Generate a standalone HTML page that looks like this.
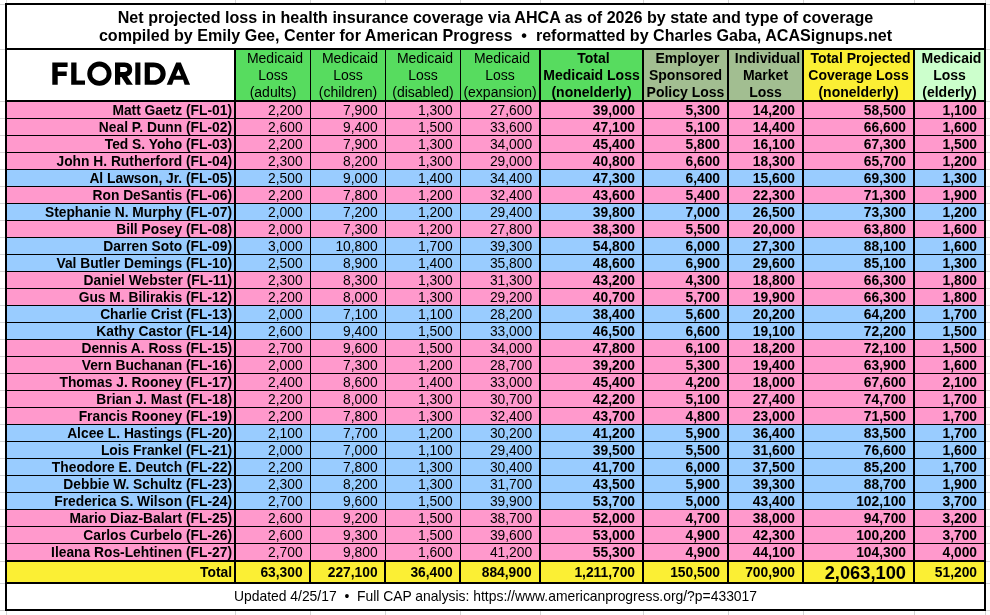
<!DOCTYPE html>
<html><head><meta charset="utf-8"><title>Florida AHCA coverage loss</title>
<style>
html,body{margin:0;padding:0;background:#fff;}
body{width:990px;height:615px;position:relative;overflow:hidden;font-family:"Liberation Sans",sans-serif;color:#000;}
.a{position:absolute;}
.k{position:absolute;background:#000;}
.g{position:absolute;background:#d4d4d4;}
.c{position:absolute;white-space:nowrap;overflow:visible;font-size:13.8px;line-height:18px;height:16px;text-align:right;box-sizing:border-box;}
.b{font-weight:bold;}
.c.b{font-size:13.8px;}
.h{position:absolute;text-align:center;font-size:14px;line-height:16.8px;white-space:nowrap;box-sizing:border-box;}
.pk{background:#FF99CC;}.bl{background:#99CCFF;}

</style></head><body><div id="root" style="position:absolute;left:0;top:0;width:990px;height:615px;will-change:transform;transform:translateZ(0);">
<div class="g" style="left:6px;top:0;width:1px;height:615px"></div>
<div class="g" style="left:235px;top:0;width:1px;height:615px"></div>
<div class="g" style="left:310px;top:0;width:1px;height:615px"></div>
<div class="g" style="left:385px;top:0;width:1px;height:615px"></div>
<div class="g" style="left:460px;top:0;width:1px;height:615px"></div>
<div class="g" style="left:540px;top:0;width:1px;height:615px"></div>
<div class="g" style="left:643px;top:0;width:1px;height:615px"></div>
<div class="g" style="left:728px;top:0;width:1px;height:615px"></div>
<div class="g" style="left:803px;top:0;width:1px;height:615px"></div>
<div class="g" style="left:914px;top:0;width:1px;height:615px"></div>
<div class="g" style="left:985px;top:0;width:1px;height:615px"></div>
<div class="g" style="left:0;top:4px;width:990px;height:1px"></div>
<div class="g" style="left:0;top:49px;width:990px;height:1px"></div>
<div class="g" style="left:0;top:101px;width:990px;height:1px"></div>
<div class="g" style="left:0;top:118px;width:990px;height:1px"></div>
<div class="g" style="left:0;top:135px;width:990px;height:1px"></div>
<div class="g" style="left:0;top:152px;width:990px;height:1px"></div>
<div class="g" style="left:0;top:169px;width:990px;height:1px"></div>
<div class="g" style="left:0;top:186px;width:990px;height:1px"></div>
<div class="g" style="left:0;top:203px;width:990px;height:1px"></div>
<div class="g" style="left:0;top:220px;width:990px;height:1px"></div>
<div class="g" style="left:0;top:237px;width:990px;height:1px"></div>
<div class="g" style="left:0;top:254px;width:990px;height:1px"></div>
<div class="g" style="left:0;top:271px;width:990px;height:1px"></div>
<div class="g" style="left:0;top:288px;width:990px;height:1px"></div>
<div class="g" style="left:0;top:305px;width:990px;height:1px"></div>
<div class="g" style="left:0;top:322px;width:990px;height:1px"></div>
<div class="g" style="left:0;top:339px;width:990px;height:1px"></div>
<div class="g" style="left:0;top:356px;width:990px;height:1px"></div>
<div class="g" style="left:0;top:373px;width:990px;height:1px"></div>
<div class="g" style="left:0;top:390px;width:990px;height:1px"></div>
<div class="g" style="left:0;top:407px;width:990px;height:1px"></div>
<div class="g" style="left:0;top:424px;width:990px;height:1px"></div>
<div class="g" style="left:0;top:441px;width:990px;height:1px"></div>
<div class="g" style="left:0;top:458px;width:990px;height:1px"></div>
<div class="g" style="left:0;top:475px;width:990px;height:1px"></div>
<div class="g" style="left:0;top:492px;width:990px;height:1px"></div>
<div class="g" style="left:0;top:509px;width:990px;height:1px"></div>
<div class="g" style="left:0;top:526px;width:990px;height:1px"></div>
<div class="g" style="left:0;top:543px;width:990px;height:1px"></div>
<div class="g" style="left:0;top:561px;width:990px;height:1px"></div>
<div class="g" style="left:0;top:583px;width:990px;height:1px"></div>
<div class="g" style="left:0;top:610px;width:990px;height:1px"></div>
<div class="a" style="left:5px;top:3px;width:981px;height:608px;background:#fff"></div>
<div class="a b" id="title" style="left:7px;top:8.2px;width:977px;text-align:center;font-size:16.1px;line-height:18.3px;white-space:nowrap;">Net projected loss in health insurance coverage via AHCA as of 2026 by state and type of coverage<br>compiled by Emily Gee, Center for American Progress &nbsp;&bull;&nbsp; reformatted by Charles Gaba, ACASignups.net</div>
<svg class="a" id="state" style="left:0;top:0;overflow:visible" width="240" height="100" viewBox="0 0 240 100"><g fill="#000" fill-rule="evenodd"><path d="M52.3,62.5 H67.6 V67 H57.7 V71.6 H66.7 V76.1 H57.7 V84.8 H52.3 Z"/><path d="M71.2,62.5 H76.5 V80.4 H85 V84.8 H71.2 Z"/><path d="M99.4,61.6 A12.15,12.1 0 1 0 99.4,85.8 A12.15,12.1 0 1 0 99.4,61.6 Z M99.4,66.4 A7.3,7.3 0 1 1 99.4,81 A7.3,7.3 0 1 1 99.4,66.4 Z"/><path d="M115,62.5 H124.6 C129.4,62.5 132.2,65.4 132.2,69.7 C132.2,73.2 130.2,75.6 127.2,76.5 L132.9,84.8 H126.6 L121.4,77 H120.2 V84.8 H115 Z M120.2,66.9 H124.2 C126.2,66.9 127.3,67.9 127.3,69.4 C127.3,70.9 126.2,71.9 124.2,71.9 H120.2 Z"/><path d="M135.3,62.5 H140.4 V84.8 H135.3 Z"/><path d="M144.7,62.5 H153.3 C160.7,62.5 165.7,67.2 165.7,73.65 C165.7,80.1 160.7,84.8 153.3,84.8 H144.7 Z M149.9,67.2 H153.2 C157.6,67.2 160.5,69.9 160.5,73.65 C160.5,77.4 157.6,80.2 153.2,80.2 H149.9 Z"/><path d="M176.2,62.4 H180.8 L190.1,84.8 H184.6 L183.1,79.7 H173.8 L172.1,84.8 H166.7 Z M178.45,69.2 L181.1,75.7 H175.7 Z"/></g></svg>
<div class="h" style="left:236px;top:50px;width:74px;height:50px;background:#57DC5F;padding-top:0px;">&nbsp;Medicaid<br>Loss<br>(adults)</div>
<div class="h" style="left:311px;top:50px;width:74px;height:50px;background:#57DC5F;padding-top:0px;">&nbsp;Medicaid<br>Loss<br>(children)</div>
<div class="h" style="left:386px;top:50px;width:74px;height:50px;background:#57DC5F;padding-top:0px;">&nbsp;Medicaid<br>Loss<br>(disabled)</div>
<div class="h" style="left:461px;top:50px;width:78px;height:50px;background:#57DC5F;padding-top:0px;">&nbsp;Medicaid<br>Loss<br>(expansion)</div>
<div class="h b" style="left:541px;top:50px;width:101px;height:50px;background:#57DC5F;padding-top:0px;">&nbsp;Total<br>Medicaid Loss<br>(nonelderly)</div>
<div class="h b" style="left:644px;top:50px;width:83px;height:50px;background:#A2BE91;padding-top:0px;">&nbsp;Employer<br>Sponsored<br>Policy Loss</div>
<div class="h b" style="left:729px;top:50px;width:73px;height:50px;background:#A2BE91;padding-top:0px;">&nbsp;Individual<br>Market<br>Loss</div>
<div class="h b" style="left:804px;top:50px;width:109px;height:50px;background:#FBEF34;padding-top:0px;">&nbsp;Total Projected<br>Coverage Loss<br>(nonelderly)</div>
<div class="h b" style="left:915px;top:50px;width:69px;height:50px;background:#CCFFCC;padding-top:0px;">&nbsp;Medicaid<br>Loss<br>(elderly)</div>
<div class="c pk b" style="left:7px;top:102px;width:227px;padding-right:2px">Matt Gaetz (FL-01)</div>
<div class="c pk" style="left:236px;top:102px;width:74px;padding-right:7.4px">2,200</div>
<div class="c pk" style="left:311px;top:102px;width:74px;padding-right:7.4px">7,900</div>
<div class="c pk" style="left:386px;top:102px;width:74px;padding-right:7.4px">1,300</div>
<div class="c pk" style="left:461px;top:102px;width:78px;padding-right:6.9px">27,600</div>
<div class="c pk b" style="left:541px;top:102px;width:101px;padding-right:7px">39,000</div>
<div class="c pk b" style="left:644px;top:102px;width:83px;padding-right:7px">5,300</div>
<div class="c pk b" style="left:729px;top:102px;width:73px;padding-right:7px">14,200</div>
<div class="c pk b" style="left:804px;top:102px;width:109px;padding-right:7px">58,500</div>
<div class="c pk b" style="left:915px;top:102px;width:69px;padding-right:7px">1,100</div>
<div class="c pk b" style="left:7px;top:119px;width:227px;padding-right:2px">Neal P. Dunn (FL-02)</div>
<div class="c pk" style="left:236px;top:119px;width:74px;padding-right:7.4px">2,600</div>
<div class="c pk" style="left:311px;top:119px;width:74px;padding-right:7.4px">9,400</div>
<div class="c pk" style="left:386px;top:119px;width:74px;padding-right:7.4px">1,500</div>
<div class="c pk" style="left:461px;top:119px;width:78px;padding-right:6.9px">33,600</div>
<div class="c pk b" style="left:541px;top:119px;width:101px;padding-right:7px">47,100</div>
<div class="c pk b" style="left:644px;top:119px;width:83px;padding-right:7px">5,100</div>
<div class="c pk b" style="left:729px;top:119px;width:73px;padding-right:7px">14,400</div>
<div class="c pk b" style="left:804px;top:119px;width:109px;padding-right:7px">66,600</div>
<div class="c pk b" style="left:915px;top:119px;width:69px;padding-right:7px">1,600</div>
<div class="c pk b" style="left:7px;top:136px;width:227px;padding-right:2px">Ted S. Yoho (FL-03)</div>
<div class="c pk" style="left:236px;top:136px;width:74px;padding-right:7.4px">2,200</div>
<div class="c pk" style="left:311px;top:136px;width:74px;padding-right:7.4px">7,900</div>
<div class="c pk" style="left:386px;top:136px;width:74px;padding-right:7.4px">1,300</div>
<div class="c pk" style="left:461px;top:136px;width:78px;padding-right:6.9px">34,000</div>
<div class="c pk b" style="left:541px;top:136px;width:101px;padding-right:7px">45,400</div>
<div class="c pk b" style="left:644px;top:136px;width:83px;padding-right:7px">5,800</div>
<div class="c pk b" style="left:729px;top:136px;width:73px;padding-right:7px">16,100</div>
<div class="c pk b" style="left:804px;top:136px;width:109px;padding-right:7px">67,300</div>
<div class="c pk b" style="left:915px;top:136px;width:69px;padding-right:7px">1,500</div>
<div class="c pk b" style="left:7px;top:153px;width:227px;padding-right:2px">John H. Rutherford (FL-04)</div>
<div class="c pk" style="left:236px;top:153px;width:74px;padding-right:7.4px">2,300</div>
<div class="c pk" style="left:311px;top:153px;width:74px;padding-right:7.4px">8,200</div>
<div class="c pk" style="left:386px;top:153px;width:74px;padding-right:7.4px">1,300</div>
<div class="c pk" style="left:461px;top:153px;width:78px;padding-right:6.9px">29,000</div>
<div class="c pk b" style="left:541px;top:153px;width:101px;padding-right:7px">40,800</div>
<div class="c pk b" style="left:644px;top:153px;width:83px;padding-right:7px">6,600</div>
<div class="c pk b" style="left:729px;top:153px;width:73px;padding-right:7px">18,300</div>
<div class="c pk b" style="left:804px;top:153px;width:109px;padding-right:7px">65,700</div>
<div class="c pk b" style="left:915px;top:153px;width:69px;padding-right:7px">1,200</div>
<div class="c bl b" style="left:7px;top:170px;width:227px;padding-right:2px">Al Lawson, Jr. (FL-05)</div>
<div class="c bl" style="left:236px;top:170px;width:74px;padding-right:7.4px">2,500</div>
<div class="c bl" style="left:311px;top:170px;width:74px;padding-right:7.4px">9,000</div>
<div class="c bl" style="left:386px;top:170px;width:74px;padding-right:7.4px">1,400</div>
<div class="c bl" style="left:461px;top:170px;width:78px;padding-right:6.9px">34,400</div>
<div class="c bl b" style="left:541px;top:170px;width:101px;padding-right:7px">47,300</div>
<div class="c bl b" style="left:644px;top:170px;width:83px;padding-right:7px">6,400</div>
<div class="c bl b" style="left:729px;top:170px;width:73px;padding-right:7px">15,600</div>
<div class="c bl b" style="left:804px;top:170px;width:109px;padding-right:7px">69,300</div>
<div class="c bl b" style="left:915px;top:170px;width:69px;padding-right:7px">1,300</div>
<div class="c pk b" style="left:7px;top:187px;width:227px;padding-right:2px">Ron DeSantis (FL-06)</div>
<div class="c pk" style="left:236px;top:187px;width:74px;padding-right:7.4px">2,200</div>
<div class="c pk" style="left:311px;top:187px;width:74px;padding-right:7.4px">7,800</div>
<div class="c pk" style="left:386px;top:187px;width:74px;padding-right:7.4px">1,200</div>
<div class="c pk" style="left:461px;top:187px;width:78px;padding-right:6.9px">32,400</div>
<div class="c pk b" style="left:541px;top:187px;width:101px;padding-right:7px">43,600</div>
<div class="c pk b" style="left:644px;top:187px;width:83px;padding-right:7px">5,400</div>
<div class="c pk b" style="left:729px;top:187px;width:73px;padding-right:7px">22,300</div>
<div class="c pk b" style="left:804px;top:187px;width:109px;padding-right:7px">71,300</div>
<div class="c pk b" style="left:915px;top:187px;width:69px;padding-right:7px">1,900</div>
<div class="c bl b" style="left:7px;top:204px;width:227px;padding-right:2px">Stephanie N. Murphy (FL-07)</div>
<div class="c bl" style="left:236px;top:204px;width:74px;padding-right:7.4px">2,000</div>
<div class="c bl" style="left:311px;top:204px;width:74px;padding-right:7.4px">7,200</div>
<div class="c bl" style="left:386px;top:204px;width:74px;padding-right:7.4px">1,200</div>
<div class="c bl" style="left:461px;top:204px;width:78px;padding-right:6.9px">29,400</div>
<div class="c bl b" style="left:541px;top:204px;width:101px;padding-right:7px">39,800</div>
<div class="c bl b" style="left:644px;top:204px;width:83px;padding-right:7px">7,000</div>
<div class="c bl b" style="left:729px;top:204px;width:73px;padding-right:7px">26,500</div>
<div class="c bl b" style="left:804px;top:204px;width:109px;padding-right:7px">73,300</div>
<div class="c bl b" style="left:915px;top:204px;width:69px;padding-right:7px">1,200</div>
<div class="c pk b" style="left:7px;top:221px;width:227px;padding-right:2px">Bill Posey (FL-08)</div>
<div class="c pk" style="left:236px;top:221px;width:74px;padding-right:7.4px">2,000</div>
<div class="c pk" style="left:311px;top:221px;width:74px;padding-right:7.4px">7,300</div>
<div class="c pk" style="left:386px;top:221px;width:74px;padding-right:7.4px">1,200</div>
<div class="c pk" style="left:461px;top:221px;width:78px;padding-right:6.9px">27,800</div>
<div class="c pk b" style="left:541px;top:221px;width:101px;padding-right:7px">38,300</div>
<div class="c pk b" style="left:644px;top:221px;width:83px;padding-right:7px">5,500</div>
<div class="c pk b" style="left:729px;top:221px;width:73px;padding-right:7px">20,000</div>
<div class="c pk b" style="left:804px;top:221px;width:109px;padding-right:7px">63,800</div>
<div class="c pk b" style="left:915px;top:221px;width:69px;padding-right:7px">1,600</div>
<div class="c bl b" style="left:7px;top:238px;width:227px;padding-right:2px">Darren Soto (FL-09)</div>
<div class="c bl" style="left:236px;top:238px;width:74px;padding-right:7.4px">3,000</div>
<div class="c bl" style="left:311px;top:238px;width:74px;padding-right:7.4px">10,800</div>
<div class="c bl" style="left:386px;top:238px;width:74px;padding-right:7.4px">1,700</div>
<div class="c bl" style="left:461px;top:238px;width:78px;padding-right:6.9px">39,300</div>
<div class="c bl b" style="left:541px;top:238px;width:101px;padding-right:7px">54,800</div>
<div class="c bl b" style="left:644px;top:238px;width:83px;padding-right:7px">6,000</div>
<div class="c bl b" style="left:729px;top:238px;width:73px;padding-right:7px">27,300</div>
<div class="c bl b" style="left:804px;top:238px;width:109px;padding-right:7px">88,100</div>
<div class="c bl b" style="left:915px;top:238px;width:69px;padding-right:7px">1,600</div>
<div class="c bl b" style="left:7px;top:255px;width:227px;padding-right:2px">Val Butler Demings (FL-10)</div>
<div class="c bl" style="left:236px;top:255px;width:74px;padding-right:7.4px">2,500</div>
<div class="c bl" style="left:311px;top:255px;width:74px;padding-right:7.4px">8,900</div>
<div class="c bl" style="left:386px;top:255px;width:74px;padding-right:7.4px">1,400</div>
<div class="c bl" style="left:461px;top:255px;width:78px;padding-right:6.9px">35,800</div>
<div class="c bl b" style="left:541px;top:255px;width:101px;padding-right:7px">48,600</div>
<div class="c bl b" style="left:644px;top:255px;width:83px;padding-right:7px">6,900</div>
<div class="c bl b" style="left:729px;top:255px;width:73px;padding-right:7px">29,600</div>
<div class="c bl b" style="left:804px;top:255px;width:109px;padding-right:7px">85,100</div>
<div class="c bl b" style="left:915px;top:255px;width:69px;padding-right:7px">1,300</div>
<div class="c pk b" style="left:7px;top:272px;width:227px;padding-right:2px">Daniel Webster (FL-11)</div>
<div class="c pk" style="left:236px;top:272px;width:74px;padding-right:7.4px">2,300</div>
<div class="c pk" style="left:311px;top:272px;width:74px;padding-right:7.4px">8,300</div>
<div class="c pk" style="left:386px;top:272px;width:74px;padding-right:7.4px">1,300</div>
<div class="c pk" style="left:461px;top:272px;width:78px;padding-right:6.9px">31,300</div>
<div class="c pk b" style="left:541px;top:272px;width:101px;padding-right:7px">43,200</div>
<div class="c pk b" style="left:644px;top:272px;width:83px;padding-right:7px">4,300</div>
<div class="c pk b" style="left:729px;top:272px;width:73px;padding-right:7px">18,800</div>
<div class="c pk b" style="left:804px;top:272px;width:109px;padding-right:7px">66,300</div>
<div class="c pk b" style="left:915px;top:272px;width:69px;padding-right:7px">1,800</div>
<div class="c pk b" style="left:7px;top:289px;width:227px;padding-right:2px">Gus M. Bilirakis (FL-12)</div>
<div class="c pk" style="left:236px;top:289px;width:74px;padding-right:7.4px">2,200</div>
<div class="c pk" style="left:311px;top:289px;width:74px;padding-right:7.4px">8,000</div>
<div class="c pk" style="left:386px;top:289px;width:74px;padding-right:7.4px">1,300</div>
<div class="c pk" style="left:461px;top:289px;width:78px;padding-right:6.9px">29,200</div>
<div class="c pk b" style="left:541px;top:289px;width:101px;padding-right:7px">40,700</div>
<div class="c pk b" style="left:644px;top:289px;width:83px;padding-right:7px">5,700</div>
<div class="c pk b" style="left:729px;top:289px;width:73px;padding-right:7px">19,900</div>
<div class="c pk b" style="left:804px;top:289px;width:109px;padding-right:7px">66,300</div>
<div class="c pk b" style="left:915px;top:289px;width:69px;padding-right:7px">1,800</div>
<div class="c bl b" style="left:7px;top:306px;width:227px;padding-right:2px">Charlie Crist (FL-13)</div>
<div class="c bl" style="left:236px;top:306px;width:74px;padding-right:7.4px">2,000</div>
<div class="c bl" style="left:311px;top:306px;width:74px;padding-right:7.4px">7,100</div>
<div class="c bl" style="left:386px;top:306px;width:74px;padding-right:7.4px">1,100</div>
<div class="c bl" style="left:461px;top:306px;width:78px;padding-right:6.9px">28,200</div>
<div class="c bl b" style="left:541px;top:306px;width:101px;padding-right:7px">38,400</div>
<div class="c bl b" style="left:644px;top:306px;width:83px;padding-right:7px">5,600</div>
<div class="c bl b" style="left:729px;top:306px;width:73px;padding-right:7px">20,200</div>
<div class="c bl b" style="left:804px;top:306px;width:109px;padding-right:7px">64,200</div>
<div class="c bl b" style="left:915px;top:306px;width:69px;padding-right:7px">1,700</div>
<div class="c bl b" style="left:7px;top:323px;width:227px;padding-right:2px">Kathy Castor (FL-14)</div>
<div class="c bl" style="left:236px;top:323px;width:74px;padding-right:7.4px">2,600</div>
<div class="c bl" style="left:311px;top:323px;width:74px;padding-right:7.4px">9,400</div>
<div class="c bl" style="left:386px;top:323px;width:74px;padding-right:7.4px">1,500</div>
<div class="c bl" style="left:461px;top:323px;width:78px;padding-right:6.9px">33,000</div>
<div class="c bl b" style="left:541px;top:323px;width:101px;padding-right:7px">46,500</div>
<div class="c bl b" style="left:644px;top:323px;width:83px;padding-right:7px">6,600</div>
<div class="c bl b" style="left:729px;top:323px;width:73px;padding-right:7px">19,100</div>
<div class="c bl b" style="left:804px;top:323px;width:109px;padding-right:7px">72,200</div>
<div class="c bl b" style="left:915px;top:323px;width:69px;padding-right:7px">1,500</div>
<div class="c pk b" style="left:7px;top:340px;width:227px;padding-right:2px">Dennis A. Ross (FL-15)</div>
<div class="c pk" style="left:236px;top:340px;width:74px;padding-right:7.4px">2,700</div>
<div class="c pk" style="left:311px;top:340px;width:74px;padding-right:7.4px">9,600</div>
<div class="c pk" style="left:386px;top:340px;width:74px;padding-right:7.4px">1,500</div>
<div class="c pk" style="left:461px;top:340px;width:78px;padding-right:6.9px">34,000</div>
<div class="c pk b" style="left:541px;top:340px;width:101px;padding-right:7px">47,800</div>
<div class="c pk b" style="left:644px;top:340px;width:83px;padding-right:7px">6,100</div>
<div class="c pk b" style="left:729px;top:340px;width:73px;padding-right:7px">18,200</div>
<div class="c pk b" style="left:804px;top:340px;width:109px;padding-right:7px">72,100</div>
<div class="c pk b" style="left:915px;top:340px;width:69px;padding-right:7px">1,500</div>
<div class="c pk b" style="left:7px;top:357px;width:227px;padding-right:2px">Vern Buchanan (FL-16)</div>
<div class="c pk" style="left:236px;top:357px;width:74px;padding-right:7.4px">2,000</div>
<div class="c pk" style="left:311px;top:357px;width:74px;padding-right:7.4px">7,300</div>
<div class="c pk" style="left:386px;top:357px;width:74px;padding-right:7.4px">1,200</div>
<div class="c pk" style="left:461px;top:357px;width:78px;padding-right:6.9px">28,700</div>
<div class="c pk b" style="left:541px;top:357px;width:101px;padding-right:7px">39,200</div>
<div class="c pk b" style="left:644px;top:357px;width:83px;padding-right:7px">5,300</div>
<div class="c pk b" style="left:729px;top:357px;width:73px;padding-right:7px">19,400</div>
<div class="c pk b" style="left:804px;top:357px;width:109px;padding-right:7px">63,900</div>
<div class="c pk b" style="left:915px;top:357px;width:69px;padding-right:7px">1,600</div>
<div class="c pk b" style="left:7px;top:374px;width:227px;padding-right:2px">Thomas J. Rooney (FL-17)</div>
<div class="c pk" style="left:236px;top:374px;width:74px;padding-right:7.4px">2,400</div>
<div class="c pk" style="left:311px;top:374px;width:74px;padding-right:7.4px">8,600</div>
<div class="c pk" style="left:386px;top:374px;width:74px;padding-right:7.4px">1,400</div>
<div class="c pk" style="left:461px;top:374px;width:78px;padding-right:6.9px">33,000</div>
<div class="c pk b" style="left:541px;top:374px;width:101px;padding-right:7px">45,400</div>
<div class="c pk b" style="left:644px;top:374px;width:83px;padding-right:7px">4,200</div>
<div class="c pk b" style="left:729px;top:374px;width:73px;padding-right:7px">18,000</div>
<div class="c pk b" style="left:804px;top:374px;width:109px;padding-right:7px">67,600</div>
<div class="c pk b" style="left:915px;top:374px;width:69px;padding-right:7px">2,100</div>
<div class="c pk b" style="left:7px;top:391px;width:227px;padding-right:2px">Brian J. Mast (FL-18)</div>
<div class="c pk" style="left:236px;top:391px;width:74px;padding-right:7.4px">2,200</div>
<div class="c pk" style="left:311px;top:391px;width:74px;padding-right:7.4px">8,000</div>
<div class="c pk" style="left:386px;top:391px;width:74px;padding-right:7.4px">1,300</div>
<div class="c pk" style="left:461px;top:391px;width:78px;padding-right:6.9px">30,700</div>
<div class="c pk b" style="left:541px;top:391px;width:101px;padding-right:7px">42,200</div>
<div class="c pk b" style="left:644px;top:391px;width:83px;padding-right:7px">5,100</div>
<div class="c pk b" style="left:729px;top:391px;width:73px;padding-right:7px">27,400</div>
<div class="c pk b" style="left:804px;top:391px;width:109px;padding-right:7px">74,700</div>
<div class="c pk b" style="left:915px;top:391px;width:69px;padding-right:7px">1,700</div>
<div class="c pk b" style="left:7px;top:408px;width:227px;padding-right:2px">Francis Rooney (FL-19)</div>
<div class="c pk" style="left:236px;top:408px;width:74px;padding-right:7.4px">2,200</div>
<div class="c pk" style="left:311px;top:408px;width:74px;padding-right:7.4px">7,800</div>
<div class="c pk" style="left:386px;top:408px;width:74px;padding-right:7.4px">1,300</div>
<div class="c pk" style="left:461px;top:408px;width:78px;padding-right:6.9px">32,400</div>
<div class="c pk b" style="left:541px;top:408px;width:101px;padding-right:7px">43,700</div>
<div class="c pk b" style="left:644px;top:408px;width:83px;padding-right:7px">4,800</div>
<div class="c pk b" style="left:729px;top:408px;width:73px;padding-right:7px">23,000</div>
<div class="c pk b" style="left:804px;top:408px;width:109px;padding-right:7px">71,500</div>
<div class="c pk b" style="left:915px;top:408px;width:69px;padding-right:7px">1,700</div>
<div class="c bl b" style="left:7px;top:425px;width:227px;padding-right:2px">Alcee L. Hastings (FL-20)</div>
<div class="c bl" style="left:236px;top:425px;width:74px;padding-right:7.4px">2,100</div>
<div class="c bl" style="left:311px;top:425px;width:74px;padding-right:7.4px">7,700</div>
<div class="c bl" style="left:386px;top:425px;width:74px;padding-right:7.4px">1,200</div>
<div class="c bl" style="left:461px;top:425px;width:78px;padding-right:6.9px">30,200</div>
<div class="c bl b" style="left:541px;top:425px;width:101px;padding-right:7px">41,200</div>
<div class="c bl b" style="left:644px;top:425px;width:83px;padding-right:7px">5,900</div>
<div class="c bl b" style="left:729px;top:425px;width:73px;padding-right:7px">36,400</div>
<div class="c bl b" style="left:804px;top:425px;width:109px;padding-right:7px">83,500</div>
<div class="c bl b" style="left:915px;top:425px;width:69px;padding-right:7px">1,700</div>
<div class="c bl b" style="left:7px;top:442px;width:227px;padding-right:2px">Lois Frankel (FL-21)</div>
<div class="c bl" style="left:236px;top:442px;width:74px;padding-right:7.4px">2,000</div>
<div class="c bl" style="left:311px;top:442px;width:74px;padding-right:7.4px">7,000</div>
<div class="c bl" style="left:386px;top:442px;width:74px;padding-right:7.4px">1,100</div>
<div class="c bl" style="left:461px;top:442px;width:78px;padding-right:6.9px">29,400</div>
<div class="c bl b" style="left:541px;top:442px;width:101px;padding-right:7px">39,500</div>
<div class="c bl b" style="left:644px;top:442px;width:83px;padding-right:7px">5,500</div>
<div class="c bl b" style="left:729px;top:442px;width:73px;padding-right:7px">31,600</div>
<div class="c bl b" style="left:804px;top:442px;width:109px;padding-right:7px">76,600</div>
<div class="c bl b" style="left:915px;top:442px;width:69px;padding-right:7px">1,600</div>
<div class="c bl b" style="left:7px;top:459px;width:227px;padding-right:2px">Theodore E. Deutch (FL-22)</div>
<div class="c bl" style="left:236px;top:459px;width:74px;padding-right:7.4px">2,200</div>
<div class="c bl" style="left:311px;top:459px;width:74px;padding-right:7.4px">7,800</div>
<div class="c bl" style="left:386px;top:459px;width:74px;padding-right:7.4px">1,300</div>
<div class="c bl" style="left:461px;top:459px;width:78px;padding-right:6.9px">30,400</div>
<div class="c bl b" style="left:541px;top:459px;width:101px;padding-right:7px">41,700</div>
<div class="c bl b" style="left:644px;top:459px;width:83px;padding-right:7px">6,000</div>
<div class="c bl b" style="left:729px;top:459px;width:73px;padding-right:7px">37,500</div>
<div class="c bl b" style="left:804px;top:459px;width:109px;padding-right:7px">85,200</div>
<div class="c bl b" style="left:915px;top:459px;width:69px;padding-right:7px">1,700</div>
<div class="c bl b" style="left:7px;top:476px;width:227px;padding-right:2px">Debbie W. Schultz (FL-23)</div>
<div class="c bl" style="left:236px;top:476px;width:74px;padding-right:7.4px">2,300</div>
<div class="c bl" style="left:311px;top:476px;width:74px;padding-right:7.4px">8,200</div>
<div class="c bl" style="left:386px;top:476px;width:74px;padding-right:7.4px">1,300</div>
<div class="c bl" style="left:461px;top:476px;width:78px;padding-right:6.9px">31,700</div>
<div class="c bl b" style="left:541px;top:476px;width:101px;padding-right:7px">43,500</div>
<div class="c bl b" style="left:644px;top:476px;width:83px;padding-right:7px">5,900</div>
<div class="c bl b" style="left:729px;top:476px;width:73px;padding-right:7px">39,300</div>
<div class="c bl b" style="left:804px;top:476px;width:109px;padding-right:7px">88,700</div>
<div class="c bl b" style="left:915px;top:476px;width:69px;padding-right:7px">1,900</div>
<div class="c bl b" style="left:7px;top:493px;width:227px;padding-right:2px">Frederica S. Wilson (FL-24)</div>
<div class="c bl" style="left:236px;top:493px;width:74px;padding-right:7.4px">2,700</div>
<div class="c bl" style="left:311px;top:493px;width:74px;padding-right:7.4px">9,600</div>
<div class="c bl" style="left:386px;top:493px;width:74px;padding-right:7.4px">1,500</div>
<div class="c bl" style="left:461px;top:493px;width:78px;padding-right:6.9px">39,900</div>
<div class="c bl b" style="left:541px;top:493px;width:101px;padding-right:7px">53,700</div>
<div class="c bl b" style="left:644px;top:493px;width:83px;padding-right:7px">5,000</div>
<div class="c bl b" style="left:729px;top:493px;width:73px;padding-right:7px">43,400</div>
<div class="c bl b" style="left:804px;top:493px;width:109px;padding-right:7px">102,100</div>
<div class="c bl b" style="left:915px;top:493px;width:69px;padding-right:7px">3,700</div>
<div class="c pk b" style="left:7px;top:510px;width:227px;padding-right:2px">Mario Diaz-Balart (FL-25)</div>
<div class="c pk" style="left:236px;top:510px;width:74px;padding-right:7.4px">2,600</div>
<div class="c pk" style="left:311px;top:510px;width:74px;padding-right:7.4px">9,200</div>
<div class="c pk" style="left:386px;top:510px;width:74px;padding-right:7.4px">1,500</div>
<div class="c pk" style="left:461px;top:510px;width:78px;padding-right:6.9px">38,700</div>
<div class="c pk b" style="left:541px;top:510px;width:101px;padding-right:7px">52,000</div>
<div class="c pk b" style="left:644px;top:510px;width:83px;padding-right:7px">4,700</div>
<div class="c pk b" style="left:729px;top:510px;width:73px;padding-right:7px">38,000</div>
<div class="c pk b" style="left:804px;top:510px;width:109px;padding-right:7px">94,700</div>
<div class="c pk b" style="left:915px;top:510px;width:69px;padding-right:7px">3,200</div>
<div class="c pk b" style="left:7px;top:527px;width:227px;padding-right:2px">Carlos Curbelo (FL-26)</div>
<div class="c pk" style="left:236px;top:527px;width:74px;padding-right:7.4px">2,600</div>
<div class="c pk" style="left:311px;top:527px;width:74px;padding-right:7.4px">9,300</div>
<div class="c pk" style="left:386px;top:527px;width:74px;padding-right:7.4px">1,500</div>
<div class="c pk" style="left:461px;top:527px;width:78px;padding-right:6.9px">39,600</div>
<div class="c pk b" style="left:541px;top:527px;width:101px;padding-right:7px">53,000</div>
<div class="c pk b" style="left:644px;top:527px;width:83px;padding-right:7px">4,900</div>
<div class="c pk b" style="left:729px;top:527px;width:73px;padding-right:7px">42,300</div>
<div class="c pk b" style="left:804px;top:527px;width:109px;padding-right:7px">100,200</div>
<div class="c pk b" style="left:915px;top:527px;width:69px;padding-right:7px">3,700</div>
<div class="c pk b" style="left:7px;top:544px;width:227px;padding-right:2px">Ileana Ros-Lehtinen (FL-27)</div>
<div class="c pk" style="left:236px;top:544px;width:74px;padding-right:7.4px">2,700</div>
<div class="c pk" style="left:311px;top:544px;width:74px;padding-right:7.4px">9,800</div>
<div class="c pk" style="left:386px;top:544px;width:74px;padding-right:7.4px">1,600</div>
<div class="c pk" style="left:461px;top:544px;width:78px;padding-right:6.9px">41,200</div>
<div class="c pk b" style="left:541px;top:544px;width:101px;padding-right:7px">55,300</div>
<div class="c pk b" style="left:644px;top:544px;width:83px;padding-right:7px">4,900</div>
<div class="c pk b" style="left:729px;top:544px;width:73px;padding-right:7px">44,100</div>
<div class="c pk b" style="left:804px;top:544px;width:109px;padding-right:7px">104,300</div>
<div class="c pk b" style="left:915px;top:544px;width:69px;padding-right:7px">4,000</div>
<div class="c b" style="left:7px;top:562px;width:227px;height:20px;line-height:21px;background:#FBEF34;padding-right:2px;font-size:13.8px">Total</div>
<div class="c b" style="left:236px;top:562px;width:74px;height:20px;line-height:21px;background:#FBEF34;padding-right:7.4px;font-size:13.8px">63,300</div>
<div class="c b" style="left:311px;top:562px;width:74px;height:20px;line-height:21px;background:#FBEF34;padding-right:7.4px;font-size:13.8px">227,100</div>
<div class="c b" style="left:386px;top:562px;width:74px;height:20px;line-height:21px;background:#FBEF34;padding-right:7.4px;font-size:13.8px">36,400</div>
<div class="c b" style="left:461px;top:562px;width:78px;height:20px;line-height:21px;background:#FBEF34;padding-right:7.4px;font-size:13.8px">884,900</div>
<div class="c b" style="left:541px;top:562px;width:101px;height:20px;line-height:21px;background:#FBEF34;padding-right:7px;font-size:13.8px">1,211,700</div>
<div class="c b" style="left:644px;top:562px;width:83px;height:20px;line-height:21px;background:#FBEF34;padding-right:7px;font-size:13.8px">150,500</div>
<div class="c b" style="left:729px;top:562px;width:73px;height:20px;line-height:21px;background:#FBEF34;padding-right:7px;font-size:13.8px">700,900</div>
<div class="c b" style="left:804px;top:562px;width:109px;height:20px;line-height:21px;background:#FBEF34;padding-right:7px;font-size:18.3px">2,063,100</div>
<div class="c b" style="left:915px;top:562px;width:69px;height:20px;line-height:21px;background:#FBEF34;padding-right:7px;font-size:13.8px">51,200</div>
<div class="a" id="foot" style="left:7px;top:584px;width:977px;height:25px;line-height:25px;text-align:center;font-size:13.9px;white-space:nowrap;">Updated 4/25/17 &nbsp;&bull;&nbsp; Full CAP analysis: https://www.americanprogress.org/?p=433017</div>
<div class="k" style="left:5px;top:3px;width:981px;height:2px"></div>
<div class="k" style="left:5px;top:48px;width:981px;height:2px"></div>
<div class="k" style="left:5px;top:100px;width:981px;height:2px"></div>
<div class="k" style="left:5px;top:560px;width:981px;height:2px"></div>
<div class="k" style="left:5px;top:582px;width:981px;height:2px"></div>
<div class="k" style="left:5px;top:609px;width:981px;height:2px"></div>
<div class="k" style="left:5px;top:118px;width:981px;height:1px"></div>
<div class="k" style="left:5px;top:135px;width:981px;height:1px"></div>
<div class="k" style="left:5px;top:152px;width:981px;height:1px"></div>
<div class="k" style="left:5px;top:169px;width:981px;height:1px"></div>
<div class="k" style="left:5px;top:186px;width:981px;height:1px"></div>
<div class="k" style="left:5px;top:203px;width:981px;height:1px"></div>
<div class="k" style="left:5px;top:220px;width:981px;height:1px"></div>
<div class="k" style="left:5px;top:237px;width:981px;height:1px"></div>
<div class="k" style="left:5px;top:254px;width:981px;height:1px"></div>
<div class="k" style="left:5px;top:271px;width:981px;height:1px"></div>
<div class="k" style="left:5px;top:288px;width:981px;height:1px"></div>
<div class="k" style="left:5px;top:305px;width:981px;height:1px"></div>
<div class="k" style="left:5px;top:322px;width:981px;height:1px"></div>
<div class="k" style="left:5px;top:339px;width:981px;height:1px"></div>
<div class="k" style="left:5px;top:356px;width:981px;height:1px"></div>
<div class="k" style="left:5px;top:373px;width:981px;height:1px"></div>
<div class="k" style="left:5px;top:390px;width:981px;height:1px"></div>
<div class="k" style="left:5px;top:407px;width:981px;height:1px"></div>
<div class="k" style="left:5px;top:424px;width:981px;height:1px"></div>
<div class="k" style="left:5px;top:441px;width:981px;height:1px"></div>
<div class="k" style="left:5px;top:458px;width:981px;height:1px"></div>
<div class="k" style="left:5px;top:475px;width:981px;height:1px"></div>
<div class="k" style="left:5px;top:492px;width:981px;height:1px"></div>
<div class="k" style="left:5px;top:509px;width:981px;height:1px"></div>
<div class="k" style="left:5px;top:526px;width:981px;height:1px"></div>
<div class="k" style="left:5px;top:543px;width:981px;height:1px"></div>
<div class="k" style="left:5px;top:3px;width:2px;height:608px"></div>
<div class="k" style="left:234px;top:50px;width:2px;height:534px"></div>
<div class="k" style="left:310px;top:50px;width:1px;height:534px"></div>
<div class="k" style="left:309px;top:562px;width:2px;height:20px"></div>
<div class="k" style="left:385px;top:50px;width:1px;height:534px"></div>
<div class="k" style="left:384px;top:562px;width:2px;height:20px"></div>
<div class="k" style="left:460px;top:50px;width:1px;height:534px"></div>
<div class="k" style="left:459px;top:562px;width:2px;height:20px"></div>
<div class="k" style="left:539px;top:50px;width:2px;height:534px"></div>
<div class="k" style="left:642px;top:50px;width:2px;height:534px"></div>
<div class="k" style="left:727px;top:50px;width:2px;height:534px"></div>
<div class="k" style="left:802px;top:50px;width:2px;height:534px"></div>
<div class="k" style="left:913px;top:50px;width:2px;height:534px"></div>
<div class="k" style="left:984px;top:3px;width:2px;height:608px"></div>
</div></body></html>
